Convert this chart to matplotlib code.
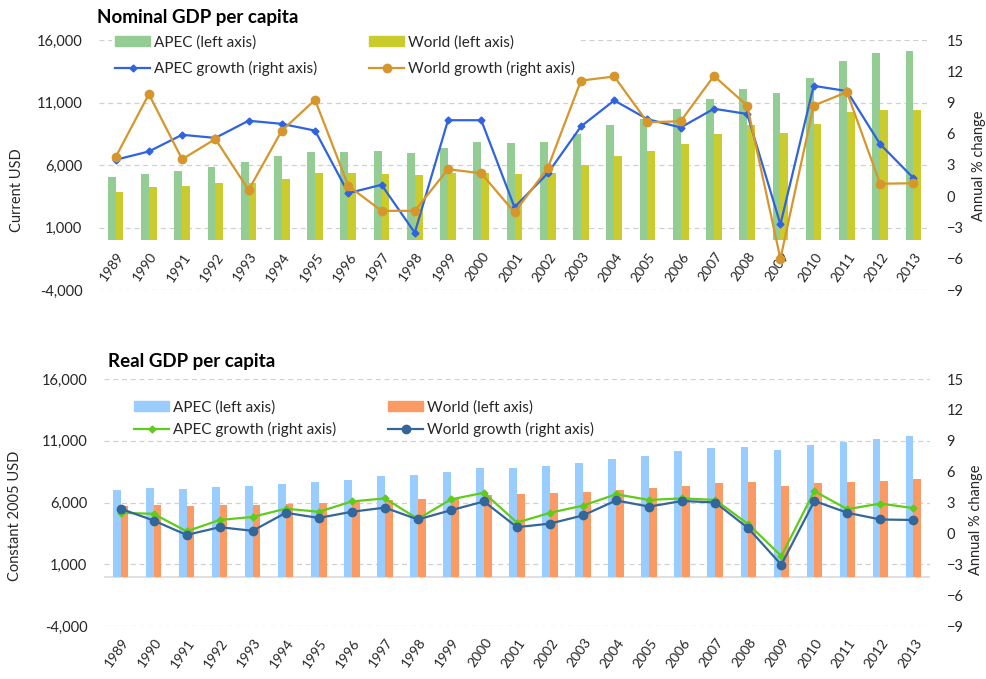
import matplotlib
matplotlib.use("Agg")
import matplotlib.pyplot as plt
import matplotlib.transforms as mtransforms
from matplotlib.lines import Line2D
from matplotlib.patches import Patch
import numpy as np

plt.rcParams["font.family"] = ["Lato", "DejaVu Sans"]

years = [str(y) for y in range(1989, 2014)]

# Nominal GDP per capita (current USD) and annual % change
apec_nominal = [5070, 5280, 5540, 5860, 6260, 6740, 7060, 7060, 7140, 6930, 7330, 7850,
                7730, 7850, 8500, 9190, 9720, 10460, 11280, 12110, 11760, 12990, 14290, 14980, 15160]
world_nominal = [3850, 4220, 4320, 4590, 4600, 4880, 5340, 5380, 5280, 5180, 5400, 5380,
                 5280, 5380, 6000, 6710, 7140, 7650, 8520, 9190, 8600, 9320, 10250, 10380, 10440]
apec_nominal_growth = [3.5, 4.3, 5.9, 5.6, 7.25, 6.95, 6.3, 0.3, 1.1, -3.5, 7.3, 7.3,
                       -1.05, 2.2, 6.7, 9.2, 7.4, 6.6, 8.4, 7.9, -2.7, 10.6, 10.1, 5.0, 1.75]
world_nominal_growth = [3.75, 9.8, 3.55, 5.5, 0.6, 6.3, 9.25, 1.0, -1.4, -1.4, 2.6, 2.2,
                        -1.55, 2.7, 11.1, 11.5, 7.1, 7.2, 11.55, 8.7, -6.0, 8.7, 10.0, 1.2, 1.25]

# Real GDP per capita (constant 2005 USD) and annual % change
apec_real = [7000, 7180, 7130, 7260, 7340, 7480, 7640, 7860, 8130, 8210, 8450, 8800,
             8830, 8990, 9210, 9560, 9800, 10150, 10450, 10500, 10260, 10640, 10880, 11180, 11370]
world_real = [5720, 5800, 5750, 5800, 5800, 5910, 5970, 6050, 6180, 6290, 6400, 6590,
              6670, 6730, 6810, 6990, 7160, 7370, 7590, 7620, 7370, 7590, 7640, 7780, 7890]
apec_real_growth = [2.0, 1.9, 0.2, 1.3, 1.6, 2.4, 2.1, 3.1, 3.4, 1.4, 3.3, 3.95,
                    1.05, 2.0, 2.7, 3.8, 3.25, 3.4, 3.25, 0.9, -2.2, 4.1, 2.35, 2.9, 2.45]
world_real_growth = [2.4, 1.25, -0.15, 0.6, 0.25, 2.0, 1.5, 2.1, 2.5, 1.35, 2.25, 3.1,
                     0.6, 0.95, 1.75, 3.2, 2.6, 3.15, 3.0, 0.5, -3.05, 3.15, 2.0, 1.35, 1.3]

TEXT = "#262626"
GRID = "#d0d0d0"


def draw_panel(fig, rect, title, title_xy, ylabel, ylabel_xy, rlabel_xy,
               apec_vals, world_vals, apec_growth, world_growth,
               colors, legend_xy, label_spacing, labels_at_zero):
    ax = fig.add_axes(rect)
    ax2 = ax.twinx()
    x = np.arange(len(years))
    w = 0.235

    ax.bar(x - w / 2, apec_vals, width=w, color=colors[0], zorder=2)
    ax.bar(x + w / 2, world_vals, width=w, color=colors[1], zorder=2)
    ax2.plot(x, apec_growth, color=colors[2], lw=1.6, marker="D", ms=3.5, zorder=3)
    ax2.plot(x, world_growth, color=colors[3], lw=1.6, marker="o", ms=6, zorder=3)

    ax.set_ylim(-4000, 16000)
    ax.set_yticks(np.arange(-4000, 16001, 5000))
    ax.set_yticklabels([f"{v:,}" for v in range(-4000, 16001, 5000)])
    ax2.set_ylim(-9, 15)
    ax2.set_yticks(np.arange(-9, 16, 3))
    ax.set_xlim(-0.5, len(years) - 0.5)

    for v in range(-4000, 16001, 5000):
        ax.axhline(v, color=GRID, lw=0.9, ls=(0, (4, 3)), zorder=0)

    if labels_at_zero:
        # category labels sit right under the zero line, as in the source
        ax.spines["bottom"].set_position(("data", 0))
    else:
        ax.axhline(0, color="#d9d9d9", lw=1.2, zorder=1)

    for a in (ax, ax2):
        for s in a.spines.values():
            s.set_visible(False)
    ax.tick_params(axis="y", length=0, pad=12, labelsize=10.5, colors=TEXT)
    ax2.tick_params(axis="y", length=0, pad=12, labelsize=10.5, colors=TEXT)

    ax.set_xticks(x)
    ax.set_xticklabels(years, rotation=55, ha="right", va="center",
                       rotation_mode="anchor", fontsize=10, color=TEXT)
    ax.tick_params(axis="x", length=0, pad=10)
    shift = mtransforms.ScaledTranslation(4 / 72, 0, fig.dpi_scale_trans)
    for lab in ax.get_xticklabels():
        lab.set_transform(lab.get_transform() + shift)

    fig.text(title_xy[0], title_xy[1], title, fontsize=13.5, fontweight="bold",
             ha="left", va="center", color="black")
    fig.text(ylabel_xy[0], ylabel_xy[1], ylabel, rotation=90, fontsize=10.5,
             ha="center", va="center", color=TEXT)
    fig.text(rlabel_xy[0], rlabel_xy[1], "Annual % change", rotation=90, fontsize=10.5,
             ha="center", va="center", color=TEXT)

    handles = [
        Patch(color=colors[0]),
        Line2D([], [], color=colors[2], lw=1.6, marker="D", ms=3.5),
        Patch(color=colors[1]),
        Line2D([], [], color=colors[3], lw=1.6, marker="o", ms=6),
    ]
    labels = ["APEC (left axis)", "APEC growth (right axis)",
              "World (left axis)", "World growth (right axis)"]
    leg = ax2.legend(handles, labels, ncol=2, loc="upper left",
                     bbox_to_anchor=legend_xy, bbox_transform=fig.transFigure,
                     fontsize=11, frameon=True, facecolor="white", edgecolor="none",
                     framealpha=1, handlelength=2.3, handletextpad=0.25,
                     columnspacing=3.4, labelspacing=label_spacing, borderpad=0.2,
                     borderaxespad=0)
    for t in leg.get_texts():
        t.set_color(TEXT)
    return ax, ax2


W, H = 986, 679
fig = plt.figure(figsize=(W / 100, H / 100), dpi=100)

draw_panel(
    fig, [99 / W, 1 - 290 / H, 831 / W, 250 / H],
    "Nominal GDP per capita", (97 / W, 1 - 17 / H),
    "Current USD", (17 / W, 1 - 190 / H), (979 / W, 1 - 166 / H),
    apec_nominal, world_nominal, apec_nominal_growth, world_nominal_growth,
    ["#93cd93", "#c9cc2c", "#2f63e0", "#d6962c"],
    (112 / W, 1 - 32 / H), 0.75, True,
)

draw_panel(
    fig, [104 / W, 1 - 626 / H, 826 / W, 247 / H],
    "Real GDP per capita", (108 / W, 1 - 361 / H),
    "Constant 2005 USD", (15 / W, 1 - 516 / H), (976 / W, 1 - 520 / H),
    apec_real, world_real, apec_real_growth, world_real_growth,
    ["#99ccff", "#fb9a63", "#5fcc1a", "#336699"],
    (131 / W, 1 - 397 / H), 0.5, False,
)

fig.savefig("out.png", dpi=100)
